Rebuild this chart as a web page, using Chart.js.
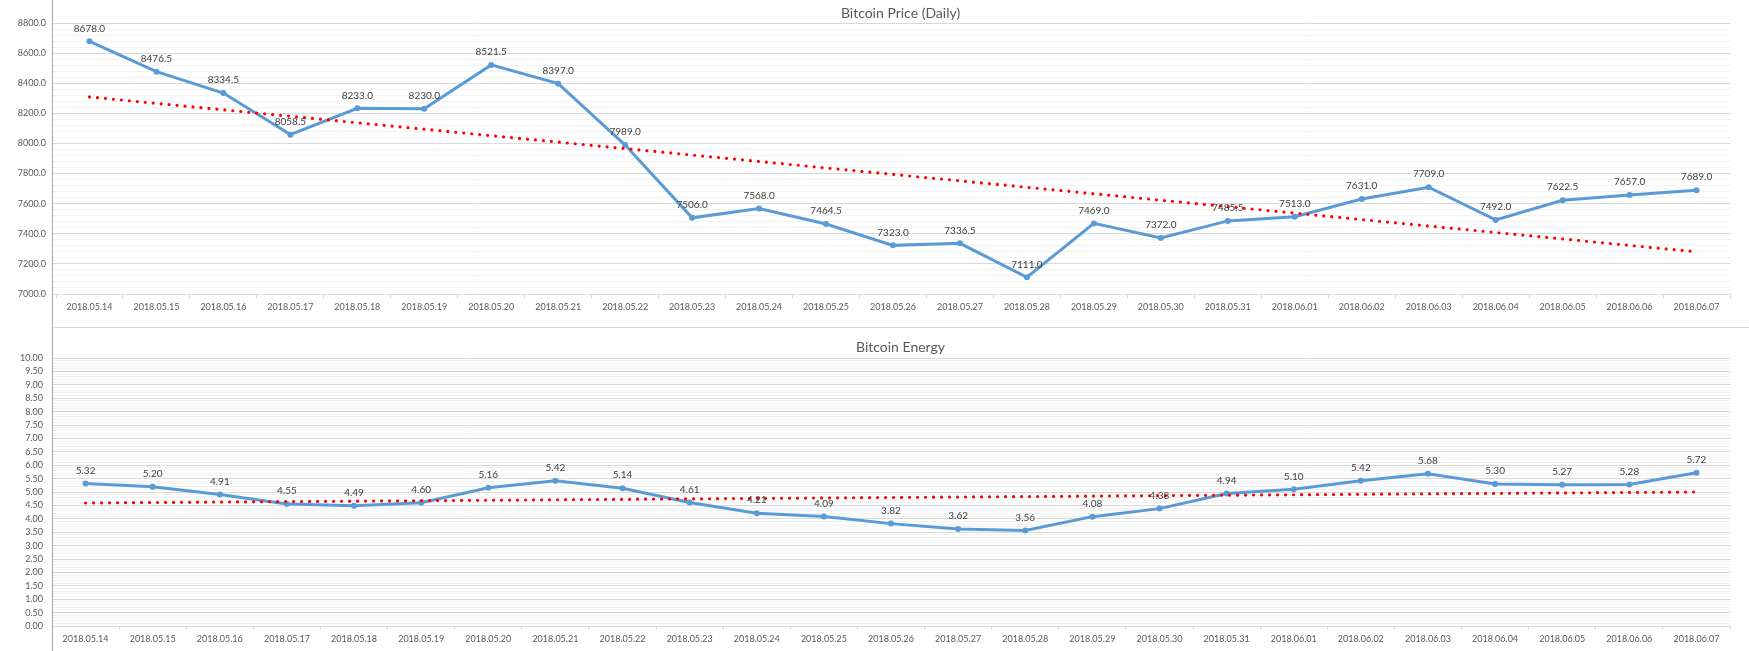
<!DOCTYPE html>
<html>
<head>
<meta charset="utf-8">
<script src="https://cdn.jsdelivr.net/npm/chart.js@4.4.1/dist/chart.umd.min.js"></script>
<style>
  html, body { margin: 0; padding: 0; background: #ffffff; }
  #wrap { position: relative; width: 1749px; height: 651px; overflow: hidden; background: #fff; }
  canvas { position: absolute; left: 0; }
  #topC { top: 0; }
  #botC { top: 328px; }
  #vline { position: absolute; left: 52px; top: 0; width: 1px; height: 651px; background: #a6a6a6; }
  #hline { position: absolute; left: 52px; top: 327px; width: 1697px; height: 1px; background: #d9d9d9; }
</style>
</head>
<body>
<div id="wrap">
  <canvas id="topC" width="1749" height="327"></canvas>
  <canvas id="botC" width="1749" height="323"></canvas>
  <div id="vline"></div>
  <div id="hline"></div>
</div>
<script>
const dates = ['2018.05.14','2018.05.15','2018.05.16','2018.05.17','2018.05.18','2018.05.19','2018.05.20',
  '2018.05.21','2018.05.22','2018.05.23','2018.05.24','2018.05.25','2018.05.26','2018.05.27','2018.05.28',
  '2018.05.29','2018.05.30','2018.05.31','2018.06.01','2018.06.02','2018.06.03','2018.06.04','2018.06.05',
  '2018.06.06','2018.06.07'];
const priceValues = [8678.0, 8476.5, 8334.5, 8058.5, 8233.0, 8230.0, 8521.5, 8397.0, 7989.0, 7506.0, 7568.0,
  7464.5, 7323.0, 7336.5, 7111.0, 7469.0, 7372.0, 7485.5, 7513.0, 7631.0, 7709.0, 7492.0, 7622.5, 7657.0, 7689.0];
const energyValues = [5.32, 5.20, 4.91, 4.55, 4.49, 4.60, 5.16, 5.42, 5.14, 4.61, 4.21, 4.09, 3.82, 3.62, 3.56,
  4.08, 4.38, 4.94, 5.10, 5.42, 5.68, 5.30, 5.27, 5.28, 5.72];
// Linear trendline end values (first and last day)
const priceTrend = [8309, 7280];
const energyTrend = [4.59, 5.00];
const priceTitle = 'Bitcoin Price (Daily)';
const energyTitle = 'Bitcoin Energy';

const FONT = 'Lato, "Open Sans", sans-serif';

function trendData(ends) {
  return [{x: dates[0], y: ends[0]}, {x: dates[dates.length - 1], y: ends[1]}];
}

const labelPlugin = {
  id: 'pointLabels',
  afterDatasetsDraw(chart, args, opts) {
    const ctx = chart.ctx;
    const idx = chart.data.datasets.findIndex(d => d.isMain);
    const meta = chart.getDatasetMeta(idx);
    const ds = chart.data.datasets[idx];
    ctx.save();
    ctx.font = '10px ' + FONT;
    ctx.fillStyle = '#404040';
    ctx.textAlign = 'center';
    ctx.textBaseline = 'middle';
    meta.data.forEach((pt, i) => {
      ctx.fillText(ds.data[i].toFixed(opts.decimals), pt.x, pt.y - 13);
    });
    ctx.restore();
  }
};

const titlePlugin = {
  id: 'panelTitle',
  afterDraw(chart, args, opts) {
    const ctx = chart.ctx;
    ctx.save();
    ctx.font = '14px ' + FONT;
    ctx.fillStyle = '#595959';
    ctx.textAlign = 'center';
    ctx.textBaseline = 'middle';
    ctx.fillText(opts.text, (52 + chart.width) / 2, opts.y);
    ctx.restore();
  }
};

function makeChart(canvasId, cfg) {
  const isMajor = v => Math.abs(v / cfg.major - Math.round(v / cfg.major)) < 1e-6;
  return new Chart(document.getElementById(canvasId), {
    type: 'line',
    data: {
      labels: dates,
      datasets: [
        {
          label: 'trend',
          data: trendData(cfg.trend),
          borderColor: '#ff0000',
          borderWidth: 3.2,
          borderDash: [0, 8],
          borderCapStyle: 'round',
          pointRadius: 0,
          fill: false,
          tension: 0,
          order: 0
        },
        {
          label: cfg.title,
          isMain: true,
          data: cfg.values,
          borderColor: '#5b9bd5',
          backgroundColor: '#5b9bd5',
          borderWidth: 3,
          pointRadius: 3,
          pointBorderWidth: 0,
          pointBackgroundColor: '#5b9bd5',
          fill: false,
          tension: 0,
          order: 1
        }
      ]
    },
    options: {
      responsive: false,
      animation: false,
      devicePixelRatio: 1,
      layout: { padding: { top: cfg.padTop, right: 19, left: 0, bottom: 0 } },
      plugins: {
        legend: { display: false },
        tooltip: { enabled: false },
        title: { display: false },
        pointLabels: { decimals: cfg.decimals },
        panelTitle: { text: cfg.title, y: cfg.titleY }
      },
      scales: {
        x: {
          type: 'category',
          offset: true,
          grid: { offset: true, drawOnChartArea: false, drawTicks: true, tickLength: 4, color: '#d9d9d9' },
          border: { display: true, color: '#d9d9d9', width: 1 },
          ticks: { autoSkip: false, maxRotation: 0, minRotation: 0, padding: cfg.xPad,
                   color: '#595959', font: { family: FONT, size: 9 } },
          afterFit(scale) { scale.height = cfg.xHeight; }
        },
        y: {
          min: cfg.min, max: cfg.max,
          grid: {
            drawTicks: cfg.yTick > 0, tickLength: cfg.yTick,
            color: ctx => (ctx.tick && isMajor(ctx.tick.value)) ? '#d9d9d9' : '#f2f2f2',
            lineWidth: 1
          },
          border: { display: false },
          ticks: {
            stepSize: cfg.minor, autoSkip: false, padding: cfg.yPad,
            color: '#595959', font: { family: FONT, size: 9 },
            callback: v => isMajor(v) ? v.toFixed(cfg.decimals) : ''
          },
          afterFit(scale) { scale.width = cfg.yWidth; }
        }
      }
    },
    plugins: [labelPlugin, titlePlugin]
  });
}

makeChart('topC', {
  values: priceValues, trend: priceTrend, title: priceTitle, titleY: 13,
  min: 7000, max: 8800, major: 200, minor: 40, decimals: 1,
  padTop: 23, xHeight: 33, xPad: 4, yWidth: 56, yTick: 3, yPad: 7
});

makeChart('botC', {
  values: energyValues, trend: energyTrend, title: energyTitle, titleY: 19,
  min: 0, max: 10, major: 0.5, minor: 0.1, decimals: 2,
  padTop: 30, xHeight: 25, xPad: 4, yWidth: 52, yTick: 0, yPad: 9
});
</script>
</body>
</html>
